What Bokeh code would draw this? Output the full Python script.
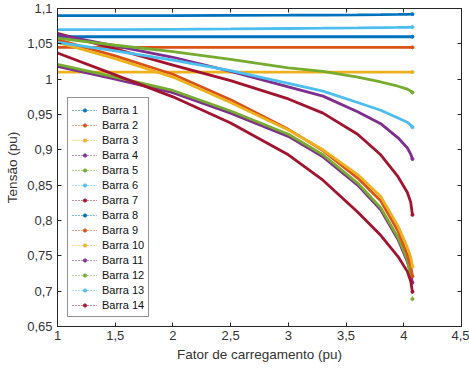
from bokeh.plotting import figure
from bokeh.models import (Range1d, FixedTicker, CustomJSTickFormatter, LinearAxis,
                          Legend, LegendItem)
from bokeh.embed import file_html
from bokeh.resources import INLINE

# ---- data ----
load = [1.0, 1.5, 2.0, 2.5, 3.0, 3.3, 3.6, 3.8, 3.95, 4.03, 4.06, 4.075]

barra_1 = [1.060, 1.060, 1.060, 1.060, 1.060, 1.060, 1.060, 1.060, 1.060, 1.060, 1.060, 1.060]
barra_2 = [1.045, 1.045, 1.045, 1.045, 1.045, 1.045, 1.045, 1.045, 1.045, 1.045, 1.045, 1.045]
barra_3 = [1.010, 1.010, 1.010, 1.010, 1.010, 1.010, 1.010, 1.010, 1.010, 1.010, 1.010, 1.010]
barra_4 = [1.018, 1.000, 0.981, 0.952, 0.919, 0.890, 0.850, 0.815, 0.773, 0.742, 0.725, 0.712]
barra_5 = [1.021, 1.003, 0.984, 0.955, 0.922, 0.893, 0.853, 0.818, 0.776, 0.745, 0.722, 0.689]
barra_6 = [1.070, 1.0702, 1.0706, 1.0711, 1.0717, 1.0721, 1.0726, 1.0730, 1.0733, 1.0735, 1.0736, 1.0737]
barra_7 = [1.065, 1.043, 1.020, 0.998, 0.972, 0.952, 0.922, 0.893, 0.862, 0.840, 0.826, 0.808]
barra_8 = [1.090, 1.090, 1.090, 1.0902, 1.0905, 1.0907, 1.0910, 1.0913, 1.0916, 1.0918, 1.0919, 1.0920]
barra_9 = [1.056, 1.033, 1.007, 0.971, 0.929, 0.899, 0.860, 0.828, 0.785, 0.752, 0.736, 0.721]
barra_10 = [1.052, 1.029, 1.003, 0.967, 0.928, 0.900, 0.865, 0.834, 0.792, 0.762, 0.748, 0.735]
barra_11 = [1.063, 1.047, 1.031, 1.011, 0.989, 0.976, 0.954, 0.937, 0.917, 0.903, 0.894, 0.887]
barra_12 = [1.058, 1.048, 1.039, 1.028, 1.016, 1.011, 1.003, 0.996, 0.990, 0.986, 0.983, 0.981]
barra_13 = [1.052, 1.040, 1.027, 1.012, 0.994, 0.983, 0.967, 0.956, 0.945, 0.939, 0.935, 0.932]
barra_14 = [1.037, 1.006, 0.975, 0.938, 0.893, 0.857, 0.812, 0.779, 0.749, 0.728, 0.714, 0.699]

series = [barra_1, barra_2, barra_3, barra_4, barra_5, barra_6, barra_7,
          barra_8, barra_9, barra_10, barra_11, barra_12, barra_13, barra_14]
names = ["Barra %d" % i for i in range(1, 15)]

x_ticks = [1.0, 1.5, 2.0, 2.5, 3.0, 3.5, 4.0, 4.5]
y_ticks = [0.65, 0.70, 0.75, 0.80, 0.85, 0.90, 0.95, 1.00, 1.05, 1.10]

palette = ["#0072BD", "#D95319", "#EDB120", "#7E2F8E", "#77AC30", "#4DBEEE", "#A2142F"]
FONT = "Liberation Sans"
AX = "#262626"

p = figure(width=469, height=372, output_backend="svg", toolbar_location=None,
           x_range=Range1d(1, 4.5), y_range=Range1d(0.65, 1.1),
           min_border_left=57, min_border_right=8, min_border_top=8, min_border_bottom=46)
p.grid.visible = False
p.outline_line_color = AX
p.outline_line_width = 1
p.background_fill_color = "white"
p.border_fill_color = "white"

fmt = CustomJSTickFormatter(code="return (Math.round(tick*100)/100).toString().replace('.', ',')")
blank = CustomJSTickFormatter(code="return ''")

def style_axis(ax, ticks, formatter, labels=True):
    ax.ticker = FixedTicker(ticks=ticks, minor_ticks=[])
    ax.formatter = formatter
    ax.axis_line_color = AX
    ax.major_tick_line_color = AX
    ax.major_tick_in = 4
    ax.major_tick_out = 0
    ax.minor_tick_line_color = None
    ax.major_label_text_font = FONT
    ax.major_label_text_font_size = "13px" if labels else "0px"
    ax.major_label_text_color = "#333333"
    ax.major_label_standoff = 4 if labels else 0

style_axis(p.xaxis[0], x_ticks, fmt)
style_axis(p.yaxis[0], y_ticks, fmt)
p.yaxis[0].major_label_standoff = 5
for ax, lab in ((p.xaxis[0], "Fator de carregamento (pu)"), (p.yaxis[0], "Tensão (pu)")):
    ax.axis_label = lab
    ax.axis_label_text_font = FONT
    ax.axis_label_text_font_size = "13.5px"
    ax.axis_label_text_font_style = "normal"
    ax.axis_label_text_color = "#333333"
    ax.axis_label_standoff = 4

top = LinearAxis()
style_axis(top, x_ticks, blank, labels=False)
p.add_layout(top, "above")
right = LinearAxis()
style_axis(right, y_ticks, blank, labels=False)
p.add_layout(right, "right")

items = []
for i, (name, vals) in enumerate(zip(names, series)):
    col = palette[i % 7]
    cut = len(vals) if abs(vals[-1] - vals[-2]) < 0.02 else len(vals) - 1
    p.line(load[:cut], vals[:cut], line_color=col, line_width=2.8)
    dl = p.line(load, vals, line_color=col, line_width=1, line_dash="1 2")
    sc = p.scatter(load[-1:], vals[-1:], marker="circle", size=3, fill_color=col, line_color=col)
    items.append(LegendItem(label=name, renderers=[dl, sc]))

legend = Legend(items=items, location=(10, 9), margin=0, padding=4, spacing=0,
                label_height=15, glyph_height=8, glyph_width=25, label_standoff=5,
                label_text_font=FONT, label_text_font_size="11px", label_text_color="#111111",
                border_line_color=AX, border_line_width=1, background_fill_color="white",
                background_fill_alpha=1)
p.add_layout(legend)

open("out.html", "w").write(file_html(p, INLINE))
